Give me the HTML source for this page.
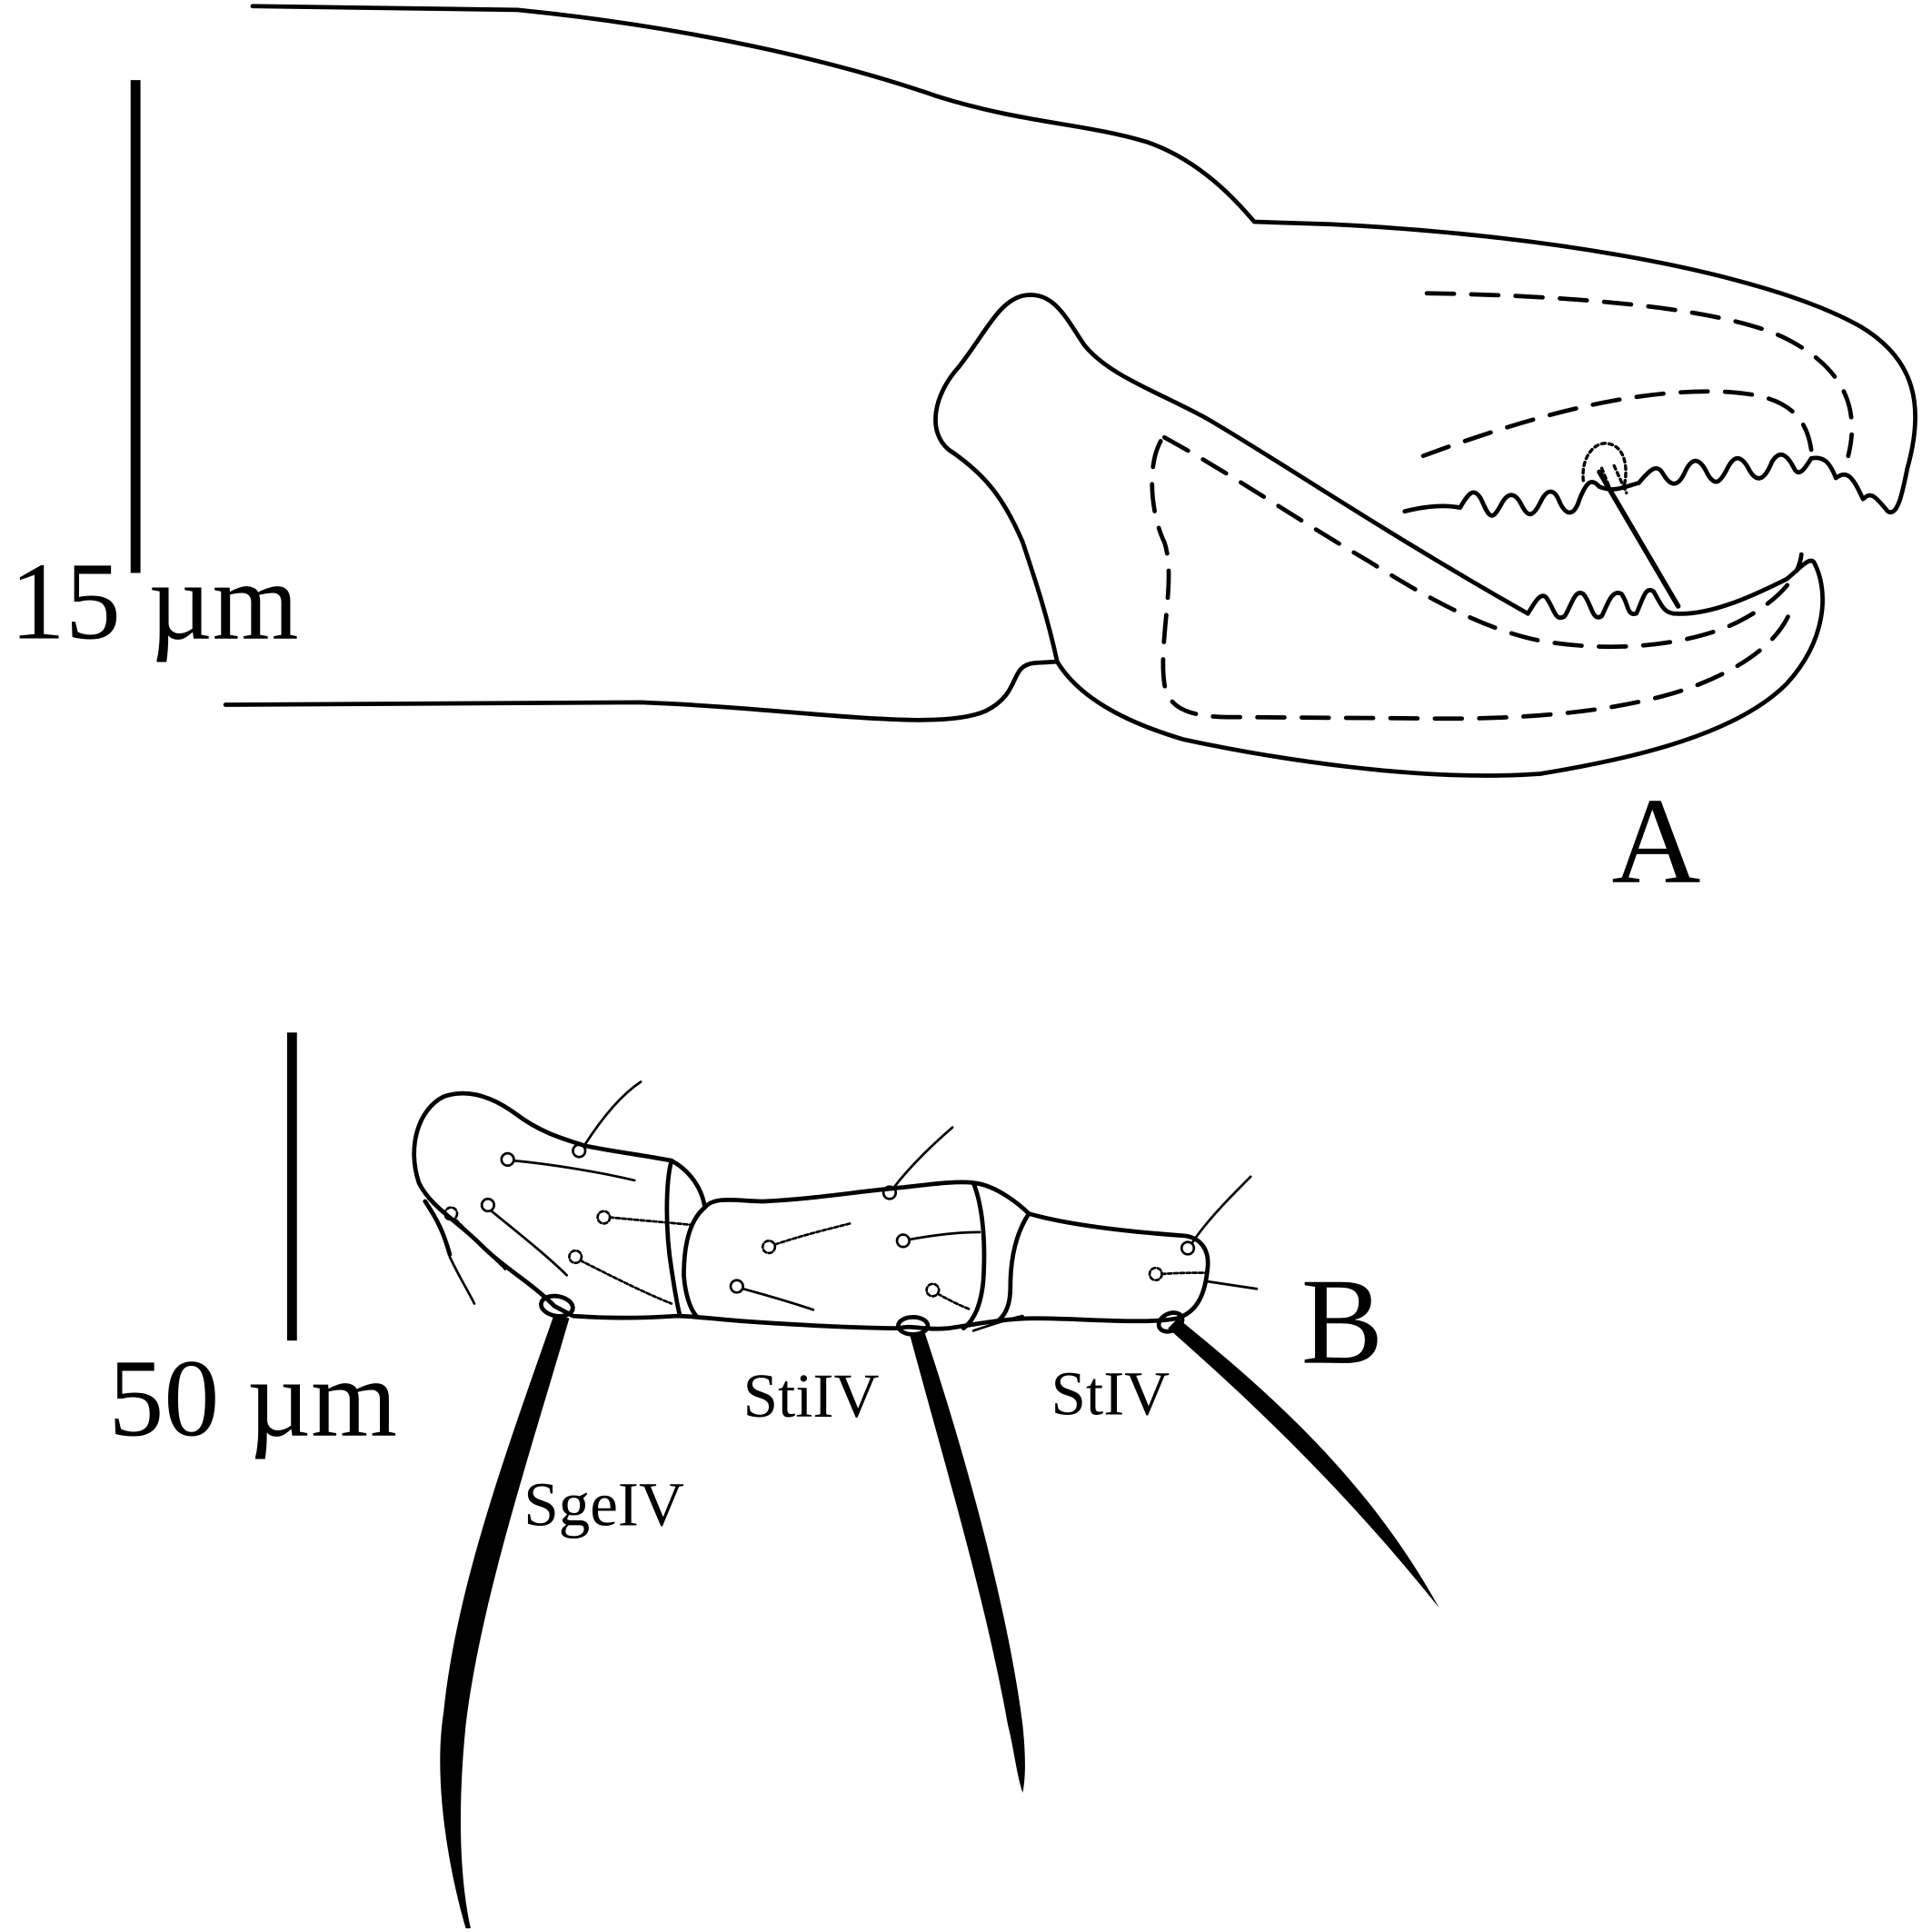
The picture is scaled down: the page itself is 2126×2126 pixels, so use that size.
<!DOCTYPE html>
<html><head><meta charset="utf-8"><style>
html,body{margin:0;padding:0;background:#fff;}
svg{display:block;}
text{font-family:"Liberation Serif",serif;fill:#000;}
</style></head><body>
<svg width="2126" height="2126" viewBox="0 0 1568 1568" xmlns="http://www.w3.org/2000/svg">
<g fill="none" stroke="#000" stroke-width="3.5" stroke-linecap="round" stroke-linejoin="round">
<path d="M205,5 L420,8 C560,22 680,50 760,78 C830,100 880,100 930,115 C975,130 1005,165 1018,180 L1080,182 C1250,190 1430,220 1510,265 C1555,292 1562,330 1548,380 C1544,400 1540,420 1532,415 C1520,400 1518,400 1512,405 C1505,390 1500,380 1490,388 C1485,375 1480,370 1470,372"/>
<path d="M183,572 L520,570 C650,575 760,595 800,577 C830,562 818,540 840,538 L858,537"/>
<path d="M858,537 C850,500 840,470 830,440 C815,405 800,385 770,365 C752,350 758,320 778,298 C800,270 810,245 830,240 C855,235 865,258 880,280 C900,305 940,318 980,340 C1040,375 1120,430 1240,498"/>
<path d="M1240,498 C1245,490 1250,480 1255,485 C1262,495 1262,505 1270,500 C1276,490 1278,478 1285,482 C1292,490 1292,505 1300,500 C1305,490 1308,478 1316,482 C1322,490 1320,500 1328,498 C1333,488 1335,475 1342,480 C1348,490 1350,498 1360,498 C1390,500 1430,480 1450,470 C1460,462 1468,452 1472,456 C1485,480 1482,520 1450,555 C1410,595 1330,615 1250,628 C1150,635 1030,615 960,600 C910,585 875,565 858,537"/>
<path d="M1140,415 C1160,410 1175,410 1185,412 C1192,400 1196,395 1202,405 C1208,418 1210,425 1218,410 C1224,398 1230,400 1235,410 C1240,420 1244,420 1250,408 C1256,395 1262,397 1266,408 C1272,420 1278,418 1282,405 C1288,390 1292,388 1298,395 C1310,400 1318,395 1330,392 C1340,380 1345,376 1350,385 C1356,395 1362,396 1368,382 C1374,370 1380,372 1386,385 C1392,395 1396,392 1402,380 C1408,368 1414,370 1420,382 C1426,392 1432,390 1438,375 C1444,365 1450,368 1456,380 C1460,388 1465,380 1470,372"/>
<path d="M1298,383 L1362,492" stroke-width="4"/>
<g stroke-dasharray="22,14">
<path d="M1158,238 C1280,240 1400,250 1450,275 C1495,298 1510,330 1500,370"/>
<path d="M1155,370 C1250,335 1330,315 1400,318 C1440,320 1465,330 1470,365"/>
<path d="M945,355 C1000,385 1050,420 1110,455 C1150,480 1200,510 1250,520 C1320,532 1380,520 1410,505 C1440,490 1460,470 1462,450"/>
<path d="M942,358 C930,380 935,420 945,440 C955,470 940,520 945,555 C948,575 965,582 1000,582 L1150,583 C1250,585 1330,575 1380,555 C1430,535 1450,510 1455,490"/>
</g>
<g stroke-dasharray="3,3" stroke-width="2.5">
<path d="M1285,390 C1283,370 1295,358 1305,360 C1318,362 1322,378 1318,395"/>
<path d="M1300,380 L1310,405 M1310,378 L1320,400"/>
</g>
<path d="M450,1060 C430,1040 410,1030 390,1010 C370,990 350,980 340,960 C330,930 340,900 360,890 C380,883 400,890 420,905 C440,920 460,925 475,930 C500,935 525,938 545,942 C560,950 570,965 572,980 C580,970 600,975 620,975 C660,973 690,968 720,965 C750,962 775,958 790,960 C810,962 830,980 835,985 C870,995 920,1000 962,1003 C975,1005 982,1015 980,1030 C978,1050 972,1065 955,1070 C930,1075 880,1070 840,1070 C815,1070 790,1075 770,1078 C750,1080 740,1075 730,1078 C700,1078 640,1075 600,1072 C575,1070 560,1068 550,1068 C520,1070 490,1070 465,1068 Z"/>
<path d="M545,942 C540,960 540,1000 545,1030 C548,1050 550,1062 552,1068"/>
<path d="M572,980 C560,990 555,1010 555,1035 C556,1050 560,1062 565,1068"/>
<path d="M790,960 C798,980 800,1010 798,1040 C796,1060 790,1072 782,1078"/>
<path d="M835,985 C825,1000 820,1020 820,1045 C820,1060 815,1068 810,1072"/>
<path d="M365,1018 C360,1000 355,990 345,975"/>
<ellipse cx="452" cy="1060" rx="13" ry="8" transform="rotate(10 452 1060)"/>
<ellipse cx="741" cy="1076" rx="12" ry="7"/>
<ellipse cx="950" cy="1073" rx="10" ry="7" transform="rotate(-25 950 1073)"/>
<g stroke-width="2">
<circle cx="470" cy="934" r="5"/><path d="M474,930 C490,905 505,888 520,878"/>
<circle cx="412" cy="941" r="5"/><path d="M417,942 C450,945 490,952 515,958"/>
<circle cx="396" cy="978" r="5"/><path d="M399,983 C420,1000 445,1020 460,1035"/>
<circle cx="722" cy="968" r="5"/><path d="M726,963 C740,945 758,928 773,915"/>
<circle cx="733" cy="1007" r="5"/><path d="M738,1006 C760,1002 780,1000 795,1000"/>
<circle cx="598" cy="1044" r="5"/><path d="M603,1046 C625,1052 645,1058 660,1063"/>
<circle cx="964" cy="1013" r="5"/><path d="M968,1008 C980,990 1000,970 1015,955"/>
<path d="M980,1040 L1020,1046"/>
<path d="M365,1020 C372,1035 380,1048 385,1058"/>
<path d="M790,1080 C805,1075 820,1070 830,1068"/>
</g>
<g stroke-width="2" stroke-dasharray="3,2">
<circle cx="366" cy="985" r="5"/><path d="M370,990 C385,1005 400,1020 410,1030"/>
<circle cx="490" cy="988" r="5"/><path d="M495,988 C515,990 540,992 560,994"/>
<circle cx="467" cy="1020" r="5"/><path d="M471,1023 C495,1035 520,1048 545,1058"/>
<circle cx="624" cy="1012" r="5"/><path d="M629,1010 C650,1003 670,998 690,993"/>
<circle cx="757" cy="1047" r="5"/><path d="M761,1050 C770,1055 780,1060 788,1063"/>
<circle cx="938" cy="1034" r="5"/><path d="M943,1034 C955,1033 968,1033 978,1033"/>
</g>
</g>
<rect x="106" y="65" width="8" height="400" fill="#000"/>
<rect x="233" y="838" width="8" height="250" fill="#000"/>
<path d="M450,1066 L462,1070 C430,1180 390,1300 378,1400 C372,1460 372,1520 382,1565 L378,1565 C362,1510 352,1440 360,1390 C370,1290 410,1180 450,1066 Z" fill="#000"/>
<path d="M738,1082 L750,1080 C790,1200 820,1320 830,1400 C833,1430 832,1445 830,1455 C825,1440 823,1420 818,1400 C800,1300 770,1200 738,1082 Z" fill="#000"/>
<path d="M948,1078 L956,1070 C1030,1130 1110,1200 1168,1305 C1100,1220 1030,1150 948,1078 Z" fill="#000"/>
<text x="8" y="518" font-size="90">15 µm</text>
<text x="88" y="1165" font-size="90">50 µm</text>
<text x="1308" y="716" font-size="100">A</text>
<text x="1056" y="1106" font-size="100">B</text>
<text x="425" y="1238" font-size="51">SgeIV</text>
<text x="603" y="1150" font-size="51">StiIV</text>
<text x="853" y="1148" font-size="51">StIV</text>
</svg>
</body></html>
